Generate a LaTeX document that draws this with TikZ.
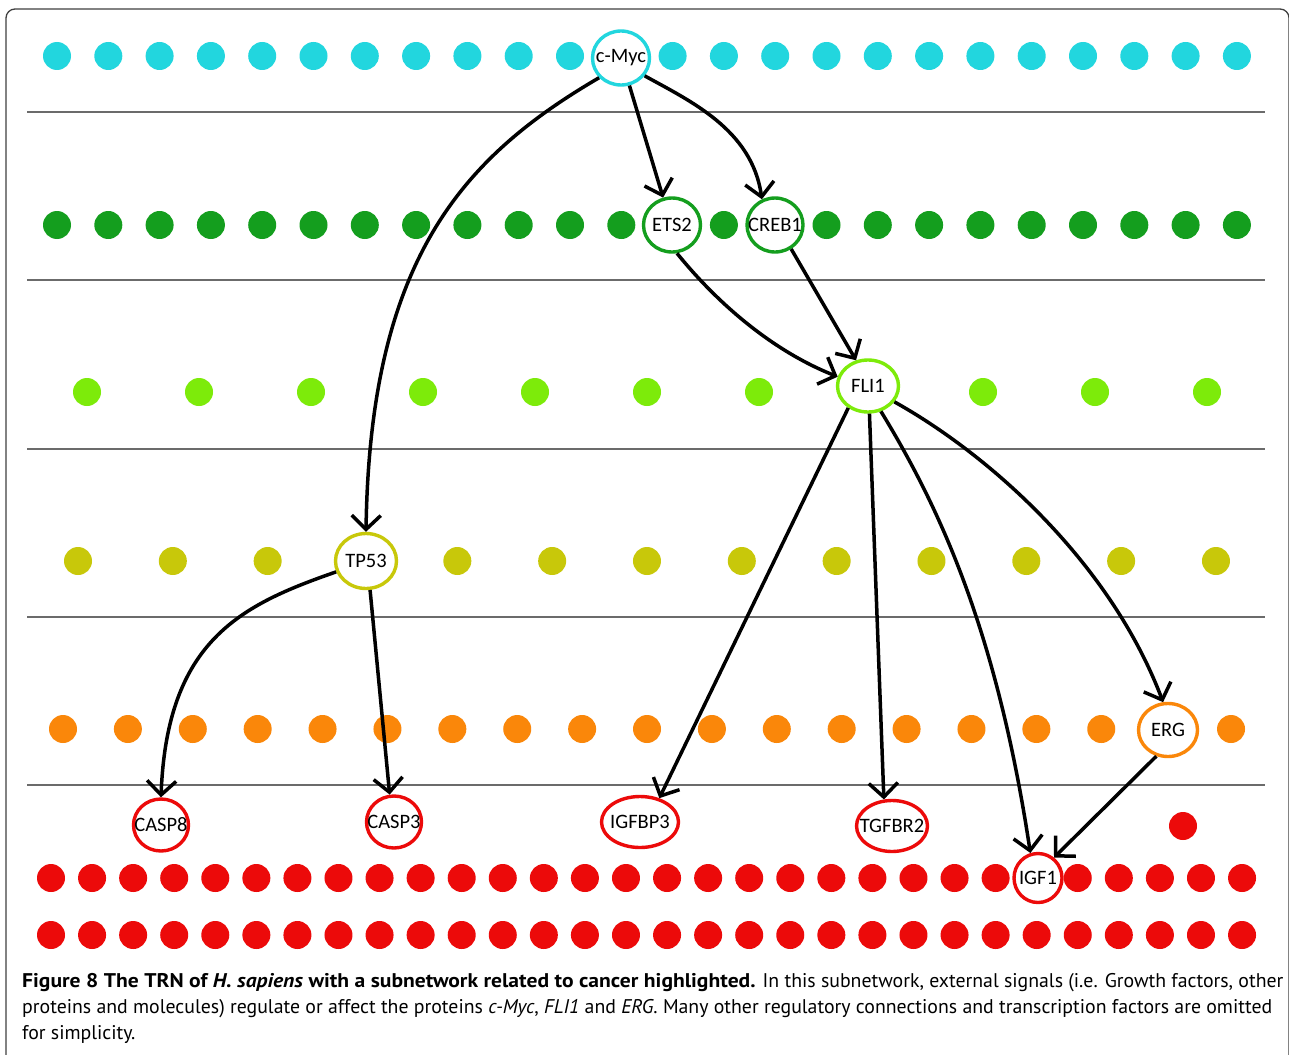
\documentclass[tikz,border=0pt]{standalone}
\usepackage{fontspec}
\usepackage{tikz}
\usetikzlibrary{shapes.geometric}
\usetikzlibrary{arrows.meta}
\newfontfamily\genefont{Carlito}
\newfontfamily\captfont{PT Sans}[BoldFeatures={FakeStretch=1.09},BoldItalicFeatures={FakeStretch=1.09}]
\definecolor{mycyan}{RGB}{34,214,222}
\definecolor{mydkgreen}{RGB}{20,158,30}
\definecolor{myltgreen}{RGB}{125,235,10}
\definecolor{myolive}{RGB}{200,200,10}
\definecolor{myorange}{RGB}{250,135,10}
\definecolor{myred}{RGB}{236,10,10}
\newcommand{\glab}[1]{\makebox[0pt]{#1}}
\begin{document}
\begin{tikzpicture}[x=1pt,y=1pt,yscale=-1,xscale=1,
    dot/.style={circle, fill=#1, minimum size=28pt, inner sep=0pt},
    gene/.style={ellipse, draw=#1, line width=3.4pt, fill=white, inner sep=0pt, font=\genefont\fontsize{20.5}{20.5}\selectfont},
    link/.style={line width=3.5pt, -{Straight Barb[length=14pt,width=29pt]}},
    sepline/.style={draw=black!58, line width=1.6pt},
    captline/.style={anchor=base west, inner sep=0pt, font=\captfont\fontsize{19.8}{19.8}\selectfont}]
    \useasboundingbox (0,0) rectangle (1289,1054);
    \clip (0,0) rectangle (1289,1054);
    \fill[white] (0,0) rectangle (1289,1054);

    %Shape: Frame
    \draw[black!75, line width=1.3pt, rounded corners=9pt] (6,9) rectangle (1289,1120);

    %Straight Lines: layer separators
    \foreach \yy/\k in {112/1,280/2,449/3,617/4,785/5}{
        \draw[sepline] (27,\yy) coordinate (sl\k) -- (1265,\yy) coordinate (sr\k);
    }

    %Dots: layer 1
    \foreach \i in {0,...,23}{
        \ifnum\i=11\else \node[dot=mycyan] (ra\i) at (57+51.3*\i,56) {}; \fi
    }
    %Dots: layer 2
    \foreach \i in {0,...,23}{
        \ifnum\i=12\else\ifnum\i=14\else \node[dot=mydkgreen] (rb\i) at (57+51.3*\i,225) {}; \fi\fi
    }
    %Dots: layer 3
    \foreach \i in {0,...,10}{
        \ifnum\i=7\else \node[dot=myltgreen] (rc\i) at (87+112*\i,392) {}; \fi
    }
    %Dots: layer 4
    \foreach \i in {0,...,12}{
        \ifnum\i=3\else \node[dot=myolive] (rd\i) at (78+94.83*\i,561) {}; \fi
    }
    %Dots: layer 5
    \foreach \i in {0,...,18}{
        \ifnum\i=17\else \node[dot=myorange] (re\i) at (63+64.89*\i,729) {}; \fi
    }
    %Dots: layer 6
    \node[dot=myred] (rf0) at (1183,826) {};
    \foreach \i in {0,...,29}{
        \ifnum\i=24\else \node[dot=myred] (rg\i) at (51+41.07*\i,878) {}; \fi
        \node[dot=myred] (rh\i) at (51+41.07*\i,935) {};
    }

    % Gene nodes
    \node[gene=mycyan, minimum width=57pt, minimum height=54pt] (cmyc) at (621,58) {\glab{c-Myc}};
    \node[gene=mydkgreen, minimum width=57pt, minimum height=54pt] (ets2) at (672,225) {\glab{ETS2}};
    \node[gene=mydkgreen, minimum width=56pt, minimum height=54pt] (creb1) at (775,225) {\glab{CREB1}};
    \node[gene=myltgreen, minimum width=61pt, minimum height=52pt] (fli1) at (868,386) {\glab{FLI1}};
    \node[gene=myolive, minimum width=61pt, minimum height=55pt] (tp53) at (366,561) {\glab{TP53}};
    \node[gene=myorange, minimum width=59pt, minimum height=53pt] (erg) at (1168,730) {\glab{ERG}};
    \node[gene=myred, minimum width=55pt, minimum height=52pt] (casp8) at (161,825) {\glab{CASP8}};
    \node[gene=myred, minimum width=55pt, minimum height=52pt] (casp3) at (394,822) {\glab{CASP3}};
    \node[gene=myred, minimum width=77pt, minimum height=51pt] (igfbp3) at (640,822) {\glab{IGFBP3}};
    \node[gene=myred, minimum width=71pt, minimum height=51pt] (tgfbr2) at (892,826) {\glab{TGFBR2}};
    \node[gene=myred, minimum width=48pt, minimum height=49pt] (igf1) at (1038,878) {\glab{IGF1}};

    % Regulations
    \draw[link] (cmyc.222) .. controls +(-137,80) and +(4,-272) .. (tp53.north);
    \draw[link] (cmyc.-73) -- (ets2.108);
    \draw[link] (cmyc.-37) .. controls +(45,25) and +(-10,-70) .. (creb1.117);
    \draw[link] (ets2.-80) .. controls +(38,47) and +(-68,-27) .. (fli1.163);
    \draw[link] (creb1.-56) -- (fli1.115);
    \draw[link] (fli1.228) -- (igfbp3.51);
    \draw[link] (fli1.-87) -- (tgfbr2.107);
    \draw[link] (fli1.-63) .. controls +(53,87) and +(-35,-232) .. (igf1.107);
    \draw[link] (fli1.-31) .. controls +(95,53) and +(-53,-140) .. (erg.100);
    \draw[link] (erg.246) -- (igf1.52);
    \draw[link] (tp53.200) .. controls +(-95,33) and +(6,-157) .. (casp8.north);
    \draw[link] (tp53.-82) -- (casp3.99);

    % Text Node: caption
    \node[captline] (cap1) at (22,987) {\textbf{Figure 8 The TRN of \textit{H. sapiens} with a subnetwork related to cancer highlighted.} In this subnetwork, external signals (i.e. Growth factors, other};
    \node[captline] (cap2) at (22,1013) {proteins and molecules) regulate or affect the proteins \textit{c-Myc}, \textit{FLI1} and \textit{ERG}. Many other regulatory connections and transcription factors are omitted};
    \node[captline] (cap3) at (22,1039) {for simplicity.};
\end{tikzpicture}
\end{document}
